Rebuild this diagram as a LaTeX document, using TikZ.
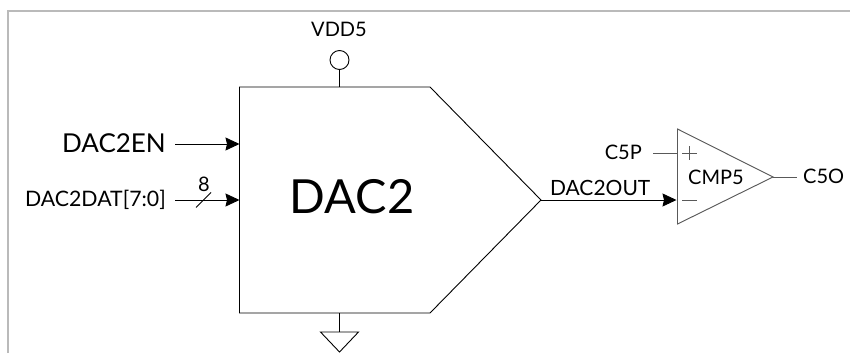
\documentclass[tikz,border=0pt]{standalone}
\usepackage{fontspec}
\setmainfont{Lato}
\usetikzlibrary{arrows.meta}

\begin{document}
\begin{tikzpicture}[
  x=1pt, y=-1pt,
  wire/.style={line width=0.9pt, black},
  flow/.style={wire, -{Stealth[length=14pt, width=13pt, inset=1.5pt]}},
  cmpline/.style={line width=0.9pt, draw=black!65},
  lbl/.style={inner sep=0pt, font=\fontsize{#1}{#1}\selectfont, text=black},
  lbl/.default=20
]
\useasboundingbox (0,0) rectangle (850,353);
% frame
\draw[line width=2pt, black!27] (8,353) -- (8,11) -- (850,11);

% dac block
\coordinate (dac_tl) at (239.5,87);
\coordinate (dac_tr) at (430,87);
\coordinate (dac_tip) at (541,200);
\coordinate (dac_br) at (430,313);
\coordinate (dac_bl) at (239.5,313);
\draw[wire] (dac_tl) -- (dac_tr) -- (dac_tip) -- (dac_br) -- (dac_bl) -- cycle;
\node[lbl=47] (dac) at (352,197) {DAC2};

% supply and ground
\node[lbl] (vddlabel) at (339,29) {VDD5};
\node[circle, draw, line width=0.9pt, minimum size=19pt, inner sep=0pt] (vdd) at (339.5,60) {};
\coordinate (dac_top) at (339.5,87);
\draw[wire] (vdd) -- (dac_top);
\coordinate (dac_bot) at (339.5,313);
\coordinate (gnd) at (339.5,332);
\draw[wire] (dac_bot) -- (gnd);
\draw[wire] (320.5,332) -- (358.5,332) -- (339.5,352) -- cycle;

% inputs
\node[lbl=26, anchor=east] (dacen) at (166,143) {DAC2EN};
\node[lbl=21.3, anchor=east] (dacdat) at (166,200) {DAC2DAT[7:0]};
\coordinate (in_en) at (239.5,144);
\coordinate (in_dat) at (239.5,200);
\coordinate (from_en) at (175,144);
\coordinate (from_dat) at (175,200);
\draw[flow] (from_en) -- (in_en);
\draw[flow] (from_dat) -- (in_dat);
\draw[wire] (196,207.5) -- (211,192.5);
\node[lbl] (width) at (204,184) {8};

% comparator
\coordinate (cmp_a) at (677.5,129);
\coordinate (cmp_b) at (773,177);
\coordinate (cmp_c) at (677.5,224);
\draw[line width=0.8pt, black!10, shift={(3pt,-3pt)}] (cmp_a) -- (cmp_b) -- (cmp_c);
\draw[cmpline] (cmp_a) -- (cmp_b) -- (cmp_c) -- cycle;
\node[lbl] (cmp) at (716,177) {CMP5};
\draw[cmpline] (682,153) -- (697,153) (689.5,146) -- (689.5,160);
\draw[cmpline] (682,200.5) -- (697,200.5);

\node[lbl, anchor=east] (cp) at (642,152) {C5P};
\node[lbl, anchor=west] (co) at (803,176) {C5O};
\coordinate (cp_in) at (677.5,153);
\coordinate (cp_from) at (653,153);
\draw[cmpline] (cp_from) -- (cp_in);
\coordinate (co_to) at (797,177);
\draw[cmpline] (cmp_b) -- (co_to);

\coordinate (cmp_neg) at (676.5,200);
\draw[flow] (dac_tip) -- (cmp_neg) node[lbl=21, pos=0.437, above=4pt] (dacout) {DAC2OUT};
\end{tikzpicture}
\end{document}
